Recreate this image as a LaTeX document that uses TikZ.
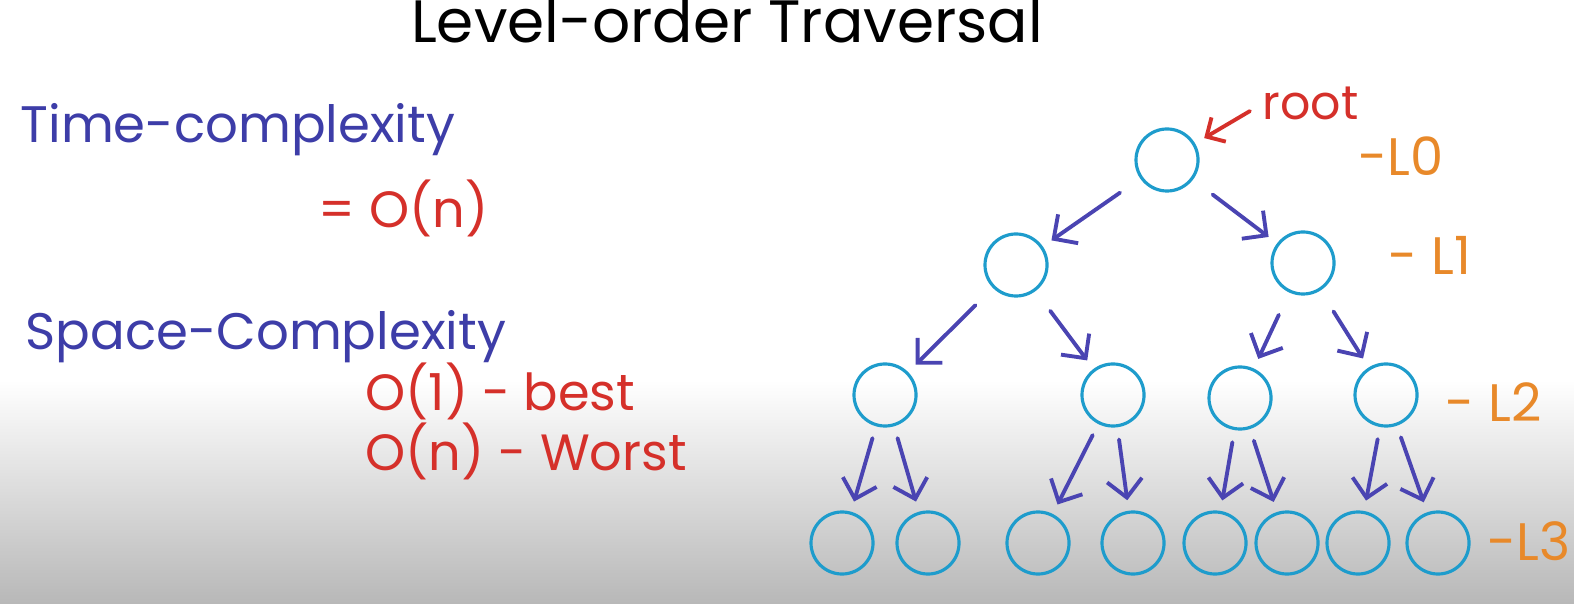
\documentclass[tikz,border=0pt]{standalone}
\usepackage{fontspec}
\setmainfont{Poppins}
\usepackage{xcolor}
\usepackage{tikz}
\usetikzlibrary{arrows.meta,positioning,calc}

\definecolor{nodecyan}{HTML}{1E9CCC}
\definecolor{arrowblue}{HTML}{4A44B2}
\definecolor{inkblue}{HTML}{3D3DA8}
\definecolor{inkred}{HTML}{D5302A}
\definecolor{inkorange}{HTML}{E8892A}

\begin{document}
\begin{tikzpicture}[
    x=0.01cm, y=-0.01cm,
    tnode/.style={circle, draw=nodecyan, line width=0.9pt, minimum size=0.62cm, inner sep=0pt},
    arr/.style={draw=arrowblue, line width=1.1pt, line cap=round, -{Straight Barb[length=5pt,width=10pt,line width=1.1pt]}, shorten <=3.5pt, shorten >=3pt},
    far/.style={shorten <=7pt},
    rarr/.style={draw=inkred, line width=1.1pt, line cap=round, -{Straight Barb[length=4pt,width=8pt,line width=1.1pt]}, shorten <=4pt, shorten >=3pt},
    bluetxt/.style={anchor=base west, inner sep=0pt, text=inkblue, font=\fontsize{14.6}{18}\selectfont},
    redtxt/.style={anchor=base west, inner sep=0pt, text=inkred, font=\fontsize{14.5}{17}\selectfont},
    lvl/.style={anchor=base west, inner sep=0pt, text=inkorange, font=\fontsize{15}{18}\selectfont}
]
    % Page and shadow at the bottom
    \useasboundingbox (0,0) rectangle (1574,604);
    \fill[white] (0,0) rectangle (1574,380);
    \shade[top color=white, bottom color=black!28] (0,380) rectangle (1574,604);

    % Title
    \node (title) at (727,43) [anchor=base, inner sep=0pt, font=\fontsize{17}{20}\selectfont] {Level-order Traversal};

    % Complexity notes
    \node (time) at (20,143) [bluetxt] {Time-complexity};
    \node (timeval) at (318,228) [redtxt] {= O(n)};
    \node (space) at (25,350) [bluetxt] {Space-Complexity};
    \node (best) at (365,410) [redtxt] {O(1) - best};
    \node (worst) at (365,470) [redtxt] {O(n) - Worst};

    % Tree: level 0 to level 3
    \node (l0) at (1167,160) [tnode] {};
    \node (l1a) at (1016,265) [tnode] {};
    \node (l1b) at (1303,263) [tnode] {};
    \node (l2a) at (885,395) [tnode] {};
    \node (l2b) at (1113,395) [tnode] {};
    \node (l2c) at (1240,398) [tnode] {};
    \node (l2d) at (1386,395) [tnode] {};
    \node (l3a) at (842,543) [tnode] {};
    \node (l3b) at (928,543) [tnode] {};
    \node (l3c) at (1038,543) [tnode] {};
    \node (l3d) at (1133,543) [tnode] {};
    \node (l3e) at (1215,543) [tnode] {};
    \node (l3f) at (1287,543) [tnode] {};
    \node (l3g) at (1358,543) [tnode] {};
    \node (l3h) at (1438,543) [tnode] {};

    % Root pointer and level marks
    \node (rootlbl) at (1262,120) [anchor=base west, inner sep=0pt, text=inkred, font=\fontsize{13.5}{16}\selectfont] {root};
    \node (lv0) at (1358,176) [lvl] {-L0};
    \node (lv1) at (1388,275) [lvl] {- L1};
    \node (lv2) at (1445,422) [lvl] {- L2};
    \node (lv3) at (1487,560) [lvl] {-L3};
    \draw [rarr] (rootlbl.west) -- (l0);

    % Edges
    \draw [arr, far] (l0) -- (l1a);
    \draw [arr, far] (l0) -- (l1b);
    \draw [arr, far] (l1a) -- (l2a);
    \draw [arr, far] (l1a) -- (l2b);
    \draw [arr, far] (l1b) -- (l2c);
    \draw [arr, far] (l1b) -- (l2d);
    \draw [arr] (l2a) -- (l3a);
    \draw [arr] (l2a) -- (l3b);
    \draw [arr] (l2b) -- (l3c);
    \draw [arr] (l2b) -- (l3d);
    \draw [arr] (l2c) -- (l3e);
    \draw [arr] (l2c) -- (l3f);
    \draw [arr] (l2d) -- (l3g);
    \draw [arr] (l2d) -- (l3h);
\end{tikzpicture}
\end{document}
